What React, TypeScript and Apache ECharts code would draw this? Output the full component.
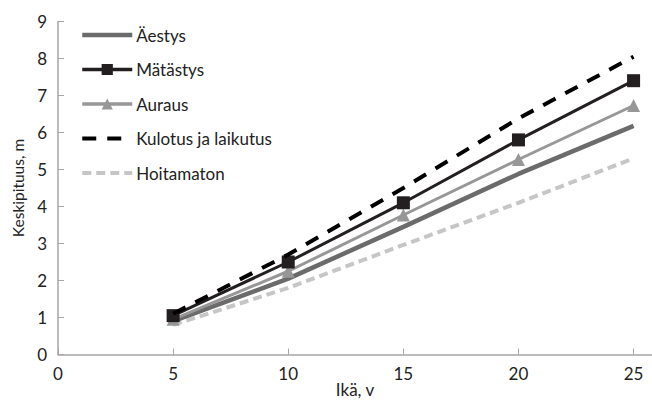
import React, { useEffect, useRef } from "react";
import * as echarts from "echarts";

const ages = [5, 10, 15, 20, 25];
const aestys = [0.9, 2.05, 3.45, 4.88, 6.18];
const matastys = [1.05, 2.5, 4.1, 5.8, 7.4];
const auraus = [0.95, 2.25, 3.77, 5.27, 6.73];
const kulotus = [1.1, 2.7, 4.5, 6.38, 8.05];
const hoitamaton = [0.8, 1.8, 2.96, 4.1, 5.3];
const xTicks = [0, 5, 10, 15, 20, 25];

const FONT = "Lato";
const TXT = "#222";
const KUL_DASH = [14, 11];
const HOI_DASH = [9, 5];

const pairs = (ys: number[]) => ages.map((a, i) => [a, ys[i]]);

export default function App() {
  const ref = useRef<HTMLDivElement>(null);
  useEffect(() => {
    if (!ref.current) return;
    const chart = echarts.init(ref.current, undefined, { renderer: "svg" });
    chart.setOption({
      animation: false,
      backgroundColor: "#ffffff",
      textStyle: { fontFamily: FONT },
      grid: {
        left: 58,
        right: 0,
        top: 21.5,
        bottom: 46.5,
        containLabel: false,
        outerBoundsMode: "none",
      },
      legend: {
        orient: "vertical",
        left: 75,
        top: 21.5,
        itemWidth: 50,
        itemHeight: 14,
        itemGap: 17.5,
        textStyle: { fontFamily: FONT, fontSize: 17, color: TXT, padding: [0, 0, 0, -1] },
        data: [
          { name: "Äestys", itemStyle: { opacity: 0 }, lineStyle: { width: 4.5, color: "#6b6b6b" } },
          { name: "Mätästys", lineStyle: { width: 3.5, color: "#231f20" } },
          { name: "Auraus", lineStyle: { width: 3.5, color: "#979797" } },
          { name: "Kulotus ja laikutus", itemStyle: { opacity: 0 }, lineStyle: { width: 4, color: "#000", type: KUL_DASH } },
          { name: "Hoitamaton", itemStyle: { opacity: 0 }, lineStyle: { width: 4, color: "#c6c6c6", type: HOI_DASH } },
        ],
      },
      xAxis: {
        type: "value",
        min: 0,
        max: 25.8,
        interval: 5,
        name: "Ikä, v",
        nameLocation: "middle",
        nameGap: 26,
        nameMoveOverlap: false,
        nameTextStyle: { fontFamily: FONT, fontSize: 17, color: TXT },
        axisLine: { show: true, lineStyle: { color: "#a6a6a6", width: 1.5 } },
        axisTick: { show: true, inside: true, length: 6, lineStyle: { color: "#a6a6a6" }, customValues: xTicks },
        axisLabel: {
          fontFamily: FONT,
          fontSize: 17,
          color: TXT,
          margin: 10,
          customValues: xTicks,
          formatter: (v: number) => (v % 5 === 0 ? String(v) : ""),
        },
        splitLine: { show: false },
      },
      yAxis: {
        type: "value",
        min: 0,
        max: 9,
        interval: 1,
        name: "Keskipituus, m",
        nameLocation: "middle",
        nameGap: 32,
        nameMoveOverlap: false,
        nameRotate: 90,
        nameTextStyle: { fontFamily: FONT, fontSize: 15.5, color: TXT },
        axisLine: { show: true, lineStyle: { color: "#a6a6a6", width: 1.5 } },
        axisTick: { show: true, inside: true, length: 6, lineStyle: { color: "#a6a6a6" } },
        axisLabel: { fontFamily: FONT, fontSize: 17, color: TXT, margin: 11 },
        splitLine: { show: false },
      },
      series: [
        {
          name: "Hoitamaton",
          type: "line",
          data: pairs(hoitamaton),
          symbol: "none",
          lineStyle: { color: "#c6c6c6", width: 4, type: HOI_DASH },
          itemStyle: { color: "#c6c6c6" },
          z: 1,
        },
        {
          name: "Äestys",
          type: "line",
          data: pairs(aestys),
          symbol: "none",
          lineStyle: { color: "#6b6b6b", width: 4.5 },
          itemStyle: { color: "#6b6b6b" },
          z: 2,
        },
        {
          name: "Auraus",
          type: "line",
          data: pairs(auraus),
          symbol: "triangle",
          symbolSize: 13,
          lineStyle: { color: "#979797", width: 3 },
          itemStyle: { color: "#979797" },
          z: 3,
        },
        {
          name: "Mätästys",
          type: "line",
          data: pairs(matastys),
          symbol: "rect",
          symbolSize: 13,
          lineStyle: { color: "#231f20", width: 3 },
          itemStyle: { color: "#231f20" },
          z: 4,
        },
        {
          name: "Kulotus ja laikutus",
          type: "line",
          data: pairs(kulotus),
          symbol: "none",
          lineStyle: { color: "#000000", width: 4, type: KUL_DASH },
          itemStyle: { color: "#000000" },
          z: 5,
        },
      ],
    });
    return () => chart.dispose();
  }, []);
  return (
    <div
      ref={ref}
      style={{ position: "fixed", left: 0, top: 0, width: 652, height: 401 }}
    />
  );
}
